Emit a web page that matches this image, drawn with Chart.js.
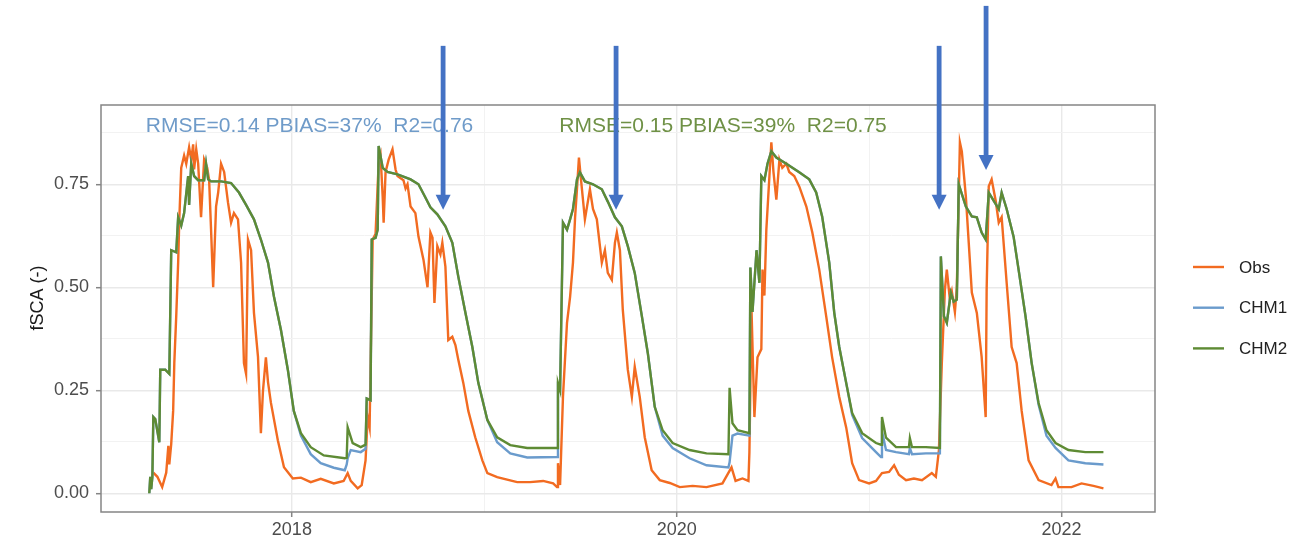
<!DOCTYPE html>
<html>
<head>
<meta charset="utf-8">
<title>fSCA</title>
<script src="https://cdn.jsdelivr.net/npm/chart.js@4.4.1/dist/chart.umd.min.js"></script>
<style>
  html, body { margin: 0; padding: 0; background: #fff; }
  canvas { display: block; }
</style>
</head>
<body>
<canvas id="fsca" width="1291" height="542"></canvas>
<script>
// [decimal year, fSCA]
const obs = [
  [2017.280,0.05],[2017.301,0.04],[2017.326,0.015],[2017.347,0.05],[2017.358,0.115],[2017.363,0.07],[2017.373,0.12],[2017.383,0.20],
  [2017.389,0.316],[2017.399,0.43],[2017.409,0.56],[2017.415,0.665],[2017.425,0.79],[2017.440,0.82],[2017.451,0.80],[2017.466,0.84],
  [2017.477,0.81],[2017.487,0.847],[2017.492,0.786],[2017.503,0.835],[2017.513,0.80],[2017.528,0.67],[2017.544,0.81],[2017.560,0.79],
  [2017.570,0.76],[2017.580,0.64],[2017.591,0.50],[2017.606,0.696],[2017.617,0.73],[2017.632,0.80],[2017.648,0.78],[2017.668,0.706],
  [2017.684,0.657],[2017.699,0.68],[2017.720,0.665],[2017.736,0.56],[2017.751,0.316],[2017.762,0.29],[2017.772,0.616],[2017.788,0.59],
  [2017.803,0.438],[2017.824,0.331],[2017.839,0.146],[2017.850,0.25],[2017.865,0.33],[2017.876,0.27],[2017.891,0.22],[2017.927,0.129],
  [2017.959,0.063],[2018.005,0.036],[2018.047,0.038],[2018.098,0.027],[2018.150,0.035],[2018.218,0.024],[2018.269,0.03],[2018.290,0.049],
  [2018.306,0.03],[2018.342,0.012],[2018.363,0.02],[2018.383,0.08],[2018.394,0.185],[2018.404,0.16],[2018.420,0.616],[2018.435,0.63],
  [2018.451,0.80],[2018.461,0.82],[2018.472,0.72],[2018.477,0.657],[2018.487,0.78],[2018.503,0.81],[2018.523,0.835],[2018.539,0.786],
  [2018.549,0.77],[2018.580,0.76],[2018.591,0.74],[2018.601,0.75],[2018.617,0.696],[2018.642,0.68],[2018.658,0.623],[2018.684,0.567],
  [2018.705,0.50],[2018.720,0.633],[2018.731,0.62],[2018.741,0.462],[2018.756,0.60],[2018.772,0.58],[2018.782,0.608],[2018.798,0.55],
  [2018.813,0.372],[2018.834,0.38],[2018.850,0.36],[2018.865,0.324],[2018.891,0.268],[2018.917,0.20],[2018.953,0.136],[2018.990,0.08],
  [2019.016,0.049],[2019.067,0.039],[2019.119,0.033],[2019.171,0.027],[2019.238,0.027],[2019.306,0.03],[2019.358,0.024],[2019.378,0.015],
  [2019.383,0.073],[2019.394,0.02],[2019.409,0.234],[2019.430,0.414],[2019.446,0.477],[2019.461,0.56],[2019.472,0.67],[2019.482,0.74],
  [2019.492,0.815],[2019.503,0.76],[2019.523,0.665],[2019.549,0.738],[2019.565,0.69],[2019.585,0.665],[2019.611,0.56],[2019.627,0.59],
  [2019.642,0.535],[2019.663,0.518],[2019.679,0.608],[2019.689,0.633],[2019.705,0.59],[2019.720,0.445],[2019.746,0.30],[2019.767,0.234],
  [2019.782,0.307],[2019.808,0.234],[2019.834,0.136],[2019.870,0.056],[2019.912,0.032],[2019.964,0.025],[2020.016,0.015],[2020.083,0.018],
  [2020.155,0.015],[2020.238,0.024],[2020.285,0.063],[2020.306,0.03],[2020.342,0.036],[2020.373,0.03],[2020.378,0.10],[2020.389,0.445],
  [2020.404,0.185],[2020.420,0.33],[2020.440,0.35],[2020.446,0.543],[2020.456,0.48],[2020.466,0.64],[2020.482,0.77],[2020.492,0.852],
  [2020.503,0.78],[2020.518,0.713],[2020.534,0.81],[2020.549,0.79],[2020.570,0.80],[2020.585,0.78],[2020.611,0.77],[2020.637,0.745],
  [2020.674,0.696],[2020.705,0.633],[2020.741,0.543],[2020.777,0.43],[2020.808,0.33],[2020.845,0.234],[2020.881,0.16],[2020.912,0.073],
  [2020.948,0.032],[2021.000,0.024],[2021.036,0.03],[2021.067,0.049],[2021.104,0.052],[2021.130,0.068],[2021.155,0.045],[2021.192,0.032],
  [2021.233,0.036],[2021.275,0.032],[2021.326,0.049],[2021.347,0.04],[2021.363,0.105],[2021.378,0.316],[2021.394,0.494],[2021.404,0.543],
  [2021.420,0.47],[2021.430,0.49],[2021.446,0.44],[2021.456,0.50],[2021.472,0.852],[2021.482,0.83],[2021.503,0.72],[2021.518,0.608],
  [2021.534,0.487],[2021.560,0.438],[2021.585,0.331],[2021.606,0.185],[2021.611,0.494],[2021.622,0.745],[2021.637,0.762],[2021.658,0.71],
  [2021.674,0.657],[2021.689,0.67],[2021.715,0.511],[2021.741,0.355],[2021.767,0.316],[2021.793,0.20],[2021.829,0.08],[2021.881,0.032],
  [2021.948,0.02],[2021.969,0.036],[2021.984,0.015],[2022.052,0.015],[2022.104,0.024],[2022.166,0.018],[2022.218,0.012]
];

const chm1 = [
  [2017.259,0.00],[2017.264,0.04],[2017.269,0.01],[2017.275,0.04],[2017.280,0.185],[2017.290,0.18],[2017.311,0.124],[2017.316,0.30],
  [2017.342,0.30],[2017.363,0.29],[2017.373,0.59],[2017.399,0.585],[2017.409,0.67],[2017.425,0.65],[2017.440,0.68],[2017.461,0.77],
  [2017.466,0.70],[2017.477,0.80],[2017.492,0.77],[2017.513,0.76],[2017.544,0.76],[2017.554,0.80],[2017.565,0.762],[2017.580,0.757],
  [2017.632,0.757],[2017.684,0.753],[2017.725,0.73],[2017.762,0.70],[2017.803,0.665],[2017.839,0.616],[2017.876,0.56],[2017.907,0.477],
  [2017.943,0.397],[2017.979,0.30],[2018.010,0.20],[2018.047,0.14],[2018.098,0.095],[2018.150,0.073],[2018.218,0.062],[2018.275,0.056],
  [2018.285,0.07],[2018.290,0.085],[2018.306,0.105],[2018.358,0.10],[2018.383,0.108],[2018.389,0.23],[2018.409,0.226],[2018.415,0.616],
  [2018.435,0.62],[2018.446,0.64],[2018.451,0.843],[2018.472,0.79],[2018.497,0.78],[2018.549,0.774],[2018.617,0.762],[2018.658,0.75],
  [2018.694,0.718],[2018.720,0.694],[2018.756,0.677],[2018.798,0.648],[2018.834,0.608],[2018.865,0.526],[2018.902,0.438],[2018.938,0.355],
  [2018.969,0.268],[2019.016,0.178],[2019.067,0.124],[2019.135,0.097],[2019.223,0.087],[2019.378,0.088],[2019.383,0.26],[2019.394,0.25],
  [2019.409,0.657],[2019.430,0.64],[2019.446,0.665],[2019.461,0.69],[2019.482,0.762],[2019.497,0.779],[2019.523,0.757],[2019.565,0.75],
  [2019.611,0.738],[2019.642,0.708],[2019.679,0.67],[2019.715,0.648],[2019.746,0.60],[2019.782,0.535],[2019.819,0.43],[2019.850,0.34],
  [2019.886,0.21],[2019.927,0.14],[2019.979,0.11],[2020.067,0.085],[2020.155,0.068],[2020.269,0.063],[2020.275,0.075],[2020.290,0.14],
  [2020.316,0.145],[2020.378,0.14],[2020.383,0.548],[2020.394,0.44],[2020.415,0.59],[2020.430,0.511],[2020.440,0.77],[2020.456,0.76],
  [2020.472,0.80],[2020.492,0.83],[2020.518,0.815],[2020.570,0.80],[2020.637,0.779],[2020.689,0.762],[2020.725,0.73],[2020.756,0.672],
  [2020.793,0.56],[2020.819,0.438],[2020.845,0.355],[2020.881,0.268],[2020.912,0.19],[2020.964,0.134],[2021.036,0.10],[2021.062,0.088],
  [2021.067,0.15],[2021.088,0.105],[2021.140,0.10],[2021.207,0.095],[2021.212,0.11],[2021.223,0.095],[2021.295,0.097],[2021.368,0.097],
  [2021.373,0.575],[2021.389,0.43],[2021.404,0.414],[2021.425,0.487],[2021.440,0.465],[2021.456,0.47],[2021.466,0.75],[2021.503,0.696],
  [2021.534,0.672],[2021.560,0.67],[2021.585,0.633],[2021.606,0.616],[2021.622,0.73],[2021.648,0.71],[2021.674,0.69],[2021.689,0.73],
  [2021.715,0.69],[2021.751,0.623],[2021.777,0.543],[2021.813,0.43],[2021.845,0.316],[2021.881,0.215],[2021.922,0.14],[2021.969,0.11],
  [2022.036,0.08],[2022.124,0.073],[2022.218,0.07]
];

const chm2 = [
  [2017.259,0.00],[2017.264,0.04],[2017.269,0.01],[2017.275,0.04],[2017.280,0.185],[2017.290,0.18],[2017.311,0.124],[2017.316,0.30],
  [2017.342,0.30],[2017.363,0.29],[2017.373,0.59],[2017.399,0.585],[2017.409,0.67],[2017.425,0.65],[2017.440,0.68],[2017.461,0.77],
  [2017.466,0.70],[2017.477,0.80],[2017.492,0.77],[2017.513,0.76],[2017.544,0.76],[2017.554,0.80],[2017.565,0.762],[2017.580,0.757],
  [2017.632,0.757],[2017.684,0.753],[2017.725,0.73],[2017.762,0.70],[2017.803,0.665],[2017.839,0.616],[2017.876,0.56],[2017.907,0.477],
  [2017.943,0.397],[2017.979,0.30],[2018.010,0.20],[2018.047,0.146],[2018.098,0.112],[2018.166,0.092],[2018.275,0.085],[2018.285,0.086],
  [2018.290,0.16],[2018.316,0.122],[2018.358,0.112],[2018.383,0.118],[2018.389,0.23],[2018.409,0.226],[2018.415,0.616],[2018.435,0.62],
  [2018.446,0.64],[2018.451,0.843],[2018.472,0.79],[2018.497,0.78],[2018.549,0.774],[2018.617,0.762],[2018.658,0.75],[2018.694,0.718],
  [2018.720,0.694],[2018.756,0.677],[2018.798,0.648],[2018.834,0.608],[2018.865,0.526],[2018.902,0.438],[2018.938,0.355],[2018.969,0.268],
  [2019.016,0.178],[2019.067,0.136],[2019.135,0.117],[2019.223,0.11],[2019.378,0.11],[2019.383,0.268],[2019.394,0.25],[2019.409,0.657],
  [2019.430,0.64],[2019.446,0.665],[2019.461,0.69],[2019.482,0.762],[2019.497,0.779],[2019.523,0.757],[2019.565,0.75],[2019.611,0.738],
  [2019.642,0.708],[2019.679,0.67],[2019.715,0.648],[2019.746,0.60],[2019.782,0.535],[2019.819,0.43],[2019.850,0.34],[2019.886,0.21],
  [2019.927,0.153],[2019.979,0.122],[2020.067,0.105],[2020.155,0.097],[2020.269,0.095],[2020.275,0.256],[2020.290,0.17],[2020.316,0.153],
  [2020.378,0.146],[2020.383,0.548],[2020.394,0.44],[2020.415,0.59],[2020.430,0.511],[2020.440,0.77],[2020.456,0.76],[2020.472,0.80],
  [2020.492,0.83],[2020.518,0.815],[2020.570,0.80],[2020.637,0.779],[2020.689,0.762],[2020.725,0.73],[2020.756,0.672],[2020.793,0.56],
  [2020.819,0.438],[2020.845,0.355],[2020.881,0.268],[2020.912,0.195],[2020.964,0.146],[2021.036,0.122],[2021.062,0.118],[2021.067,0.185],
  [2021.088,0.135],[2021.140,0.112],[2021.207,0.112],[2021.212,0.134],[2021.223,0.112],[2021.295,0.112],[2021.368,0.11],[2021.373,0.575],
  [2021.389,0.43],[2021.404,0.414],[2021.425,0.487],[2021.440,0.465],[2021.456,0.47],[2021.466,0.75],[2021.503,0.696],[2021.534,0.672],
  [2021.560,0.67],[2021.585,0.633],[2021.606,0.616],[2021.622,0.73],[2021.648,0.71],[2021.674,0.69],[2021.689,0.73],[2021.715,0.69],
  [2021.751,0.623],[2021.777,0.543],[2021.813,0.43],[2021.845,0.316],[2021.881,0.219],[2021.922,0.153],[2021.969,0.122],[2022.036,0.105],
  [2022.124,0.10],[2022.218,0.10]
];

const seriesNames = ['Obs', 'CHM1', 'CHM2'];
const yearTicks = [2018, 2019, 2020, 2021, 2022];
const fscaTicks = [0, 0.125, 0.25, 0.375, 0.5, 0.625, 0.75, 0.875];
const yTitle = 'fSCA (-)';

const statsText = ['RMSE=0.14 PBIAS=37%  R2=0.76', 'RMSE=0.15 PBIAS=39%  R2=0.75'];
const statsYear = [2018.092, 2020.241];
const statsValue = 0.878;

// dates the arrows point at, and the fSCA level of each arrow tip
const arrowYear = [2018.786, 2019.685, 2021.364, 2021.608];
const arrowValue = [0.688, 0.688, 0.688, 0.785];

const COLORS = ['#f26b21', '#6a9bcc', '#5e8b34'];
const STATS_COLORS = ['#6f9bc9', '#6f9146'];
const ARROW_COLOR = '#4472c4';
const ARROW_LEN = 164;
const FONT = "'Liberation Sans', Arial, Helvetica, sans-serif";
const AXIS_COLOR = '#858585';

const toXY = pts => pts.map(([x, y]) => ({ x, y }));
const isMajorYear = v => v % 2 === 0;
const isMajorFsca = v => Math.abs(v / 0.25 - Math.round(v / 0.25)) < 1e-6;

const overlay = {
  id: 'overlay',
  afterDatasetsDraw(chart) {
    const { ctx, scales: { x, y } } = chart;
    ctx.save();
    ctx.font = '21px ' + FONT;
    ctx.textAlign = 'center';
    ctx.textBaseline = 'alphabetic';
    statsText.forEach((t, i) => {
      ctx.fillStyle = STATS_COLORS[i];
      ctx.fillText(t, x.getPixelForValue(statsYear[i]), y.getPixelForValue(statsValue));
    });
    ctx.restore();
  },
  afterDraw(chart) {
    const { ctx, chartArea: a, scales: { x, y } } = chart;
    ctx.save();

    // panel border
    ctx.strokeStyle = AXIS_COLOR;
    ctx.lineWidth = 1.5;
    ctx.strokeRect(a.left, a.top, a.right - a.left, a.bottom - a.top);

    // y axis title, sits a little above the panel middle
    ctx.save();
    ctx.translate(38, 298);
    ctx.rotate(-Math.PI / 2);
    ctx.font = '18px ' + FONT;
    ctx.fillStyle = '#1a1a1a';
    ctx.textAlign = 'center';
    ctx.textBaseline = 'middle';
    ctx.fillText(yTitle, 0, 0);
    ctx.restore();

    // legend
    ctx.font = '17px ' + FONT;
    ctx.textAlign = 'left';
    ctx.textBaseline = 'middle';
    chart.data.datasets.forEach((ds, i) => {
      const ly = 267 + i * 40.7;
      ctx.strokeStyle = ds.borderColor;
      ctx.lineWidth = 2.4;
      ctx.beginPath();
      ctx.moveTo(1193, ly);
      ctx.lineTo(1224, ly);
      ctx.stroke();
      ctx.fillStyle = '#222';
      ctx.fillText(ds.label, 1239, ly + 1);
    });

    // arrows
    ctx.fillStyle = ARROW_COLOR;
    arrowYear.forEach((yr, i) => {
      const px = x.getPixelForValue(yr);
      const tip = y.getPixelForValue(arrowValue[i]);
      const head = 15;
      ctx.fillRect(px - 2.4, tip - ARROW_LEN, 4.8, ARROW_LEN - head + 1);
      ctx.beginPath();
      ctx.moveTo(px - 7.5, tip - head);
      ctx.lineTo(px + 7.5, tip - head);
      ctx.lineTo(px, tip);
      ctx.closePath();
      ctx.fill();
    });
    ctx.restore();
  }
};

new Chart(document.getElementById('fsca'), {
  type: 'line',
  data: {
    datasets: [obs, chm1, chm2].map((pts, i) => ({
      label: seriesNames[i],
      data: toXY(pts),
      borderColor: COLORS[i],
      borderWidth: 2.4,
      pointRadius: 0,
      tension: 0,
      order: 3 - i
    }))
  },
  options: {
    responsive: false,
    animation: false,
    events: [],
    layout: { padding: { top: 105, right: 136, left: 0, bottom: 0 } },
    plugins: { legend: { display: false }, tooltip: { enabled: false } },
    scales: {
      x: {
        type: 'linear',
        min: 2017.008,
        max: 2022.486,
        afterBuildTicks: s => { s.ticks = yearTicks.map(v => ({ value: v })); },
        afterFit: s => { s.height = 30; },
        border: { display: false },
        grid: {
          color: c => isMajorYear(c.tick.value) ? '#e9e9e9' : '#f2f2f2',
          lineWidth: c => isMajorYear(c.tick.value) ? 1.4 : 1,
          tickColor: c => isMajorYear(c.tick.value) ? AXIS_COLOR : 'rgba(0,0,0,0)',
          tickWidth: 1.5,
          tickLength: 5
        },
        ticks: {
          autoSkip: false,
          maxRotation: 0,
          padding: 2,
          color: '#4d4d4d',
          font: { family: FONT, size: 18 },
          callback: v => isMajorYear(v) ? String(v) : ''
        }
      },
      y: {
        min: -0.0454,
        max: 0.9425,
        afterBuildTicks: s => { s.ticks = fscaTicks.map(v => ({ value: v })); },
        afterFit: s => { s.width = 101; },
        border: { display: false },
        grid: {
          color: c => isMajorFsca(c.tick.value) ? '#e9e9e9' : '#f2f2f2',
          lineWidth: c => isMajorFsca(c.tick.value) ? 1.4 : 1,
          tickColor: c => isMajorFsca(c.tick.value) ? AXIS_COLOR : 'rgba(0,0,0,0)',
          tickWidth: 1.5,
          tickLength: 5
        },
        ticks: {
          autoSkip: false,
          padding: 7,
          color: '#4d4d4d',
          font: { family: FONT, size: 18 },
          callback: v => isMajorFsca(v) ? v.toFixed(2) : ''
        }
      }
    }
  },
  plugins: [overlay]
});
</script>
</body>
</html>
